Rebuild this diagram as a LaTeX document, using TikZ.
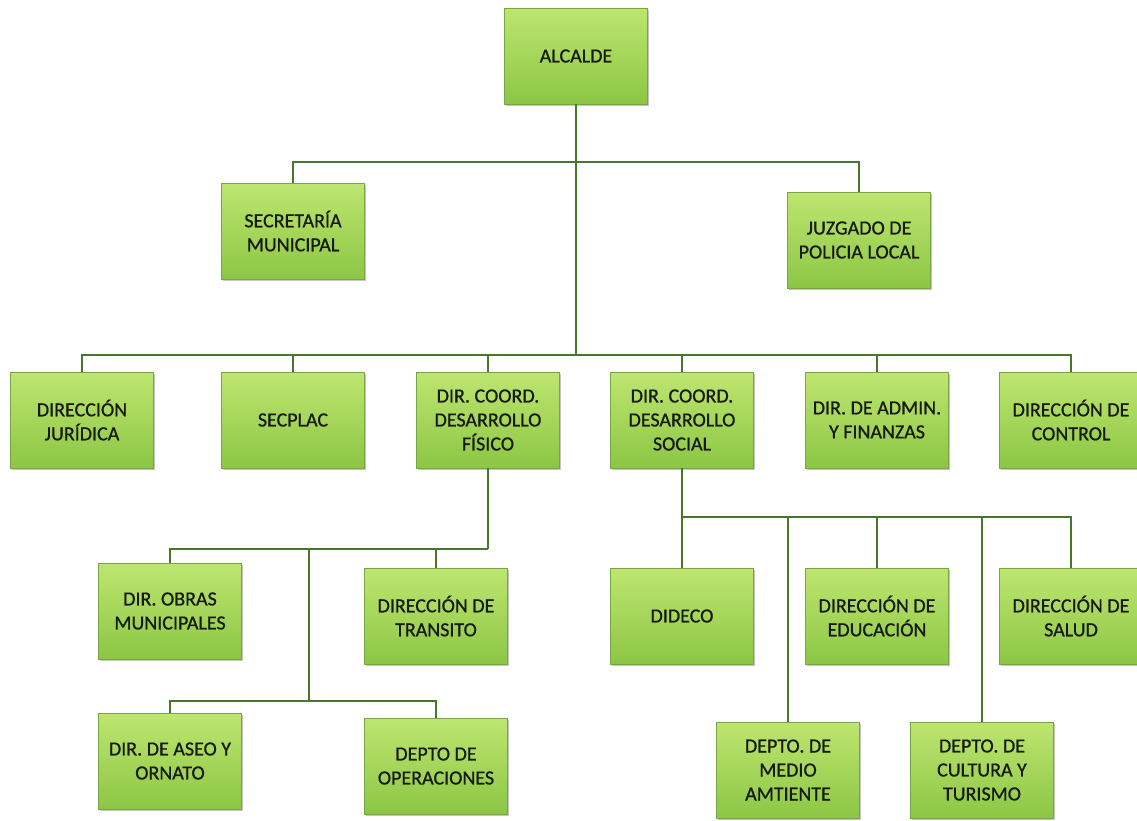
\documentclass[tikz,border=0pt]{standalone}
\usepackage{fontspec}
\setmainfont{Carlito}
\newfontfamily\boxfont[BoldFont=Carlito, BoldFeatures={FakeBold=0.8}]{Carlito}
\usetikzlibrary{shadows}
\definecolor{boxtop}{RGB}{190,230,112}
\definecolor{boxbot}{RGB}{140,198,68}
\definecolor{boxline}{RGB}{120,165,70}
\definecolor{connc}{RGB}{72,118,42}
\definecolor{txt}{RGB}{22,26,18}
\begin{document}
\begin{tikzpicture}[x=1pt,y=-1pt,
  box/.style={rectangle, draw=boxline, line width=0.6pt, top color=boxtop, bottom color=boxbot,
    minimum width=143pt, minimum height=96pt, align=center, inner sep=2pt,
    font=\boxfont\bfseries\fontsize{20}{24}\selectfont, text=txt,
    drop shadow={shadow xshift=1.5pt, shadow yshift=-1.5pt, fill=black!45, opacity=0.5}},
  conn/.style={draw=connc, line width=1.4pt}]
\useasboundingbox (0,0) rectangle (1137,820);
\fill[white] (0,0) rectangle (1137,820);
% nodes
\node[box] (alc) at (576,56) {ALCALDE};
\node[box] (sec) at (293,231) {SECRETARÍA\\MUNICIPAL};
\node[box] (juz) at (859,240) {JUZGADO DE\\POLICIA LOCAL};
\node[box] (jur) at (82,420) {DIRECCIÓN\\JURÍDICA};
\node[box] (spl) at (293,420) {SECPLAC};
\node[box] (fis) at (488,420) {DIR. COORD.\\DESARROLLO\\FÍSICO};
\node[box] (soc) at (682,420) {DIR. COORD.\\DESARROLLO\\SOCIAL};
\node[box] (adm) at (877,420) {DIR. DE ADMIN.\\Y FINANZAS};
\node[box] (ctl) at (1071,420) {DIRECCIÓN DE\\CONTROL};
\node[box] (obr) at (170,611) {DIR. OBRAS\\MUNICIPALES};
\node[box] (tra) at (436,616) {DIRECCIÓN DE\\TRANSITO};
\node[box] (ase) at (170,761) {DIR. DE ASEO Y\\ORNATO};
\node[box] (ope) at (436,766) {DEPTO DE\\OPERACIONES};
\node[box] (did) at (682,616) {DIDECO};
\node[box] (edu) at (877,616) {DIRECCIÓN DE\\EDUCACIÓN};
\node[box] (sal) at (1071,616) {DIRECCIÓN DE\\SALUD};
\node[box] (med) at (788,770) {DEPTO. DE\\MEDIO\\AMTIENTE};
\node[box] (cul) at (982,770) {DEPTO. DE\\CULTURA Y\\TURISMO};
% junction coordinates
\coordinate (h1) at (576,162);
\coordinate (h2) at (576,355);
\coordinate (f1) at (488,549);
\coordinate (f2) at (309,549);
\coordinate (f3) at (309,701);
\coordinate (s1) at (682,517);
% connectors
\draw[conn] (alc.south) -- (h2);
\draw[conn] (sec.north) |- (h1) -| (juz.north);
\draw[conn] (jur.north) |- (h2) -| (ctl.north);
\draw[conn] (spl.north) -- (spl.north |- h2);
\draw[conn] (fis.north) -- (fis.north |- h2);
\draw[conn] (soc.north) -- (soc.north |- h2);
\draw[conn] (adm.north) -- (adm.north |- h2);
\draw[conn] (fis.south) -- (f1);
\draw[conn] (obr.north) |- (f1);
\draw[conn] (tra.north) -- (tra.north |- f1);
\draw[conn] (f2) -- (f3);
\draw[conn] (ase.north) |- (f3) -| (ope.north);
\draw[conn] (soc.south) -- (did.north);
\draw[conn] (s1) -| (sal.north);
\draw[conn] (med.north) -- (med.north |- s1);
\draw[conn] (edu.north) -- (edu.north |- s1);
\draw[conn] (cul.north) -- (cul.north |- s1);
\end{tikzpicture}
\end{document}
